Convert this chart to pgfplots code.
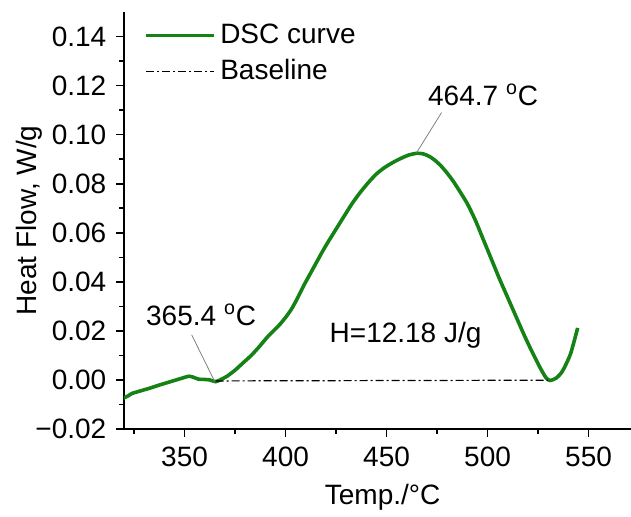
\documentclass[border=0pt]{standalone}
\usepackage{fontspec}
\setmainfont{Liberation Sans}
\usepackage{pgfplots}
\pgfplotsset{compat=1.18}
\definecolor{dscgreen}{RGB}{20,130,20}
\begin{document}
\fontsize{14}{16}\selectfont
\begin{tikzpicture}
\begin{axis}[
  scale only axis, width=253.5pt, height=208.5pt,
  xmin=320, xmax=571, ymin=-0.02, ymax=0.15,
  axis x line*=bottom, axis y line*=left,
  axis line style={line width=0.9pt, -},
  tick align=outside,
  major tick length=4pt, minor tick length=2.5pt,
  every tick/.style={line width=0.8pt, black},
  xtick={350,400,450,500,550},
  minor xtick={325,375,425,475,525},
  ytick={-0.02,0,0.02,0.04,0.06,0.08,0.10,0.12,0.14},
  yticklabels={−0.02,0.00,0.02,0.04,0.06,0.08,0.10,0.12,0.14},
  minor ytick={-0.01,0.01,0.03,0.05,0.07,0.09,0.11,0.13},
  /pgf/number format/assume math mode=true,
  xticklabel style={/pgf/number format/.cd, fixed, precision=0},
  ticklabel style={font=\fontsize{14}{16}\selectfont},
  xlabel={Temp./°C},
  ylabel={Heat Flow, W/g},
  xlabel style={at={(axis description cs:0.51,-0.163)}, anchor=center, font=\fontsize{14}{16}\selectfont},
  ylabel style={at={(axis description cs:-0.1874,0.5)}, anchor=center, font=\fontsize{14}{16}\selectfont},
  legend style={at={(axis description cs:0.04,0.983)}, anchor=north west, draw=none, fill=none,
    font=\fontsize{14}{16}\selectfont, row sep=2pt, inner sep=0pt},
  legend cell align=left,
  legend image code/.code={\draw[#1] (0pt,0pt) -- (34pt,0pt);},
]
\addplot[dscgreen, line width=1.8pt, smooth, tension=0.4] coordinates {
(319.5,-0.0075) (322,-0.0065) (324,-0.0055) (328,-0.0045) (333,-0.0033)
(337,-0.0022) (341,-0.0012) (345,-0.0002) (349,0.0008) (352,0.0015)
(354,0.0012) (357,0.0003) (360,0.0002) (362.5,0.0000) (365.4,-0.0007)
(368,0.0002) (371,0.0015) (375,0.0040) (379,0.0070) (383,0.0100)
(387,0.0136) (391,0.0175) (394,0.0200) (397,0.0225) (400,0.0255)
(403,0.0290) (406,0.0335) (409,0.0385) (412,0.0430) (415,0.0475)
(418,0.0520) (421,0.0562) (425,0.0615) (429,0.0668) (433,0.0720)
(437,0.0765) (441,0.0805) (445,0.0840) (449,0.0866) (453,0.0886)
(457,0.0903) (461,0.0917) (465,0.0924) (468,0.0922) (471,0.0912)
(474,0.0895) (477,0.0872) (480,0.0843) (483,0.0810) (486,0.0772)
(490,0.0718) (494,0.0650) (498,0.0570) (502,0.0490) (506,0.0410)
(510,0.0335) (514,0.0260) (518,0.0185) (522,0.0115) (526,0.0050)
(529,0.0008) (531,-0.0002) (534,0.0008) (537,0.0035) (541,0.0105)
(544.6,0.0212)
};
\addlegendentry{DSC curve}
\addplot[black, line width=0.6pt, dash pattern=on 4pt off 1.5pt on 1pt off 1.5pt] coordinates {
(365.4,-0.0004) (530,-0.0001)
};
\addlegendentry{Baseline}
\draw[gray, line width=0.4pt] (axis cs:353.5,0.0184) -- (axis cs:364.9,-0.0006);
\draw[gray, line width=0.4pt] (axis cs:477.2,0.109) -- (axis cs:464.9,0.0927);
\node[font=\fontsize{14}{16}\selectfont] at (axis cs:358.2,0.0265) {365.4 \textsuperscript{o}C};
\node[font=\fontsize{14}{16}\selectfont] at (axis cs:497.8,0.1163) {464.7 \textsuperscript{o}C};
\node[font=\fontsize{14}{16}\selectfont] at (axis cs:459.4,0.0184) {H=12.18 J/g};
\end{axis}
\pgfresetboundingbox
\path[use as bounding box] (-62pt,-43.5pt) rectangle (253.5pt,214.5pt);
\end{tikzpicture}
\end{document}
